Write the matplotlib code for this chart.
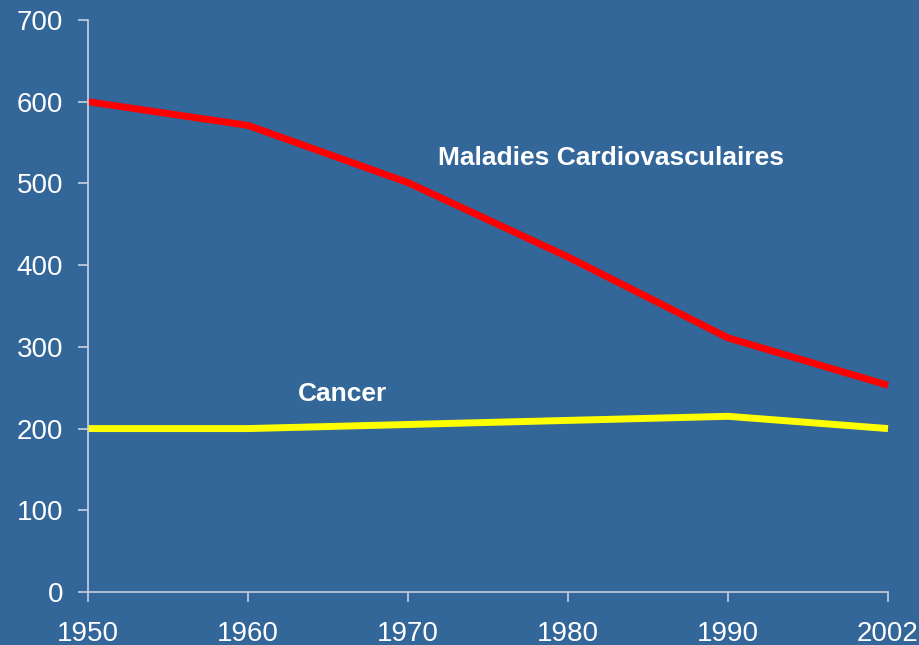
import matplotlib
matplotlib.use("Agg")
import matplotlib.pyplot as plt

years = ["1950", "1960", "1970", "1980", "1990", "2002"]
cardio = [600, 571, 501, 410, 311, 253]
cancer = [200, 200, 205, 210, 215, 200]
yticks = [0, 100, 200, 300, 400, 500, 600, 700]

bg = "#336699"
axis_col = "#c8d2e0"

plt.rcParams['font.family'] = ['Liberation Sans', 'DejaVu Sans']

fig = plt.figure(figsize=(9.2, 6.45), dpi=100, facecolor=bg)
ax = fig.add_axes([88/920, 1 - 592/645, 800/920, 572/645])
ax.set_facecolor(bg)

x = list(range(len(years)))
ax.plot(x, cardio, color="#ff0000", lw=5, solid_capstyle="butt", clip_on=False)
ax.plot(x, cancer, color="#ffff00", lw=5, solid_capstyle="butt", clip_on=False)

ax.set_xlim(0, len(years) - 1)
ax.set_ylim(0, 700)
ax.set_xticks(x)
ax.set_xticklabels(years)
ax.set_yticks(yticks)

for s in ["top", "right"]:
    ax.spines[s].set_visible(False)
for s in ["left", "bottom"]:
    ax.spines[s].set_color(axis_col)
    ax.spines[s].set_linewidth(1.2)

ax.tick_params(axis="x", colors=axis_col, length=7, width=1.2, pad=14,
               labelsize=20, labelcolor="white")
ax.tick_params(axis="y", colors=axis_col, length=7, width=1.2, pad=11,
               labelsize=20, labelcolor="white")

ax.text(2.19, 531, "Maladies Cardiovasculaires", color="white",
        fontsize=19, fontweight="bold", va="center", ha="left")
ax.text(1.31, 242, "Cancer", color="white",
        fontsize=19, fontweight="bold", va="center", ha="left")

fig.savefig("out.png", dpi=100, facecolor=bg)
